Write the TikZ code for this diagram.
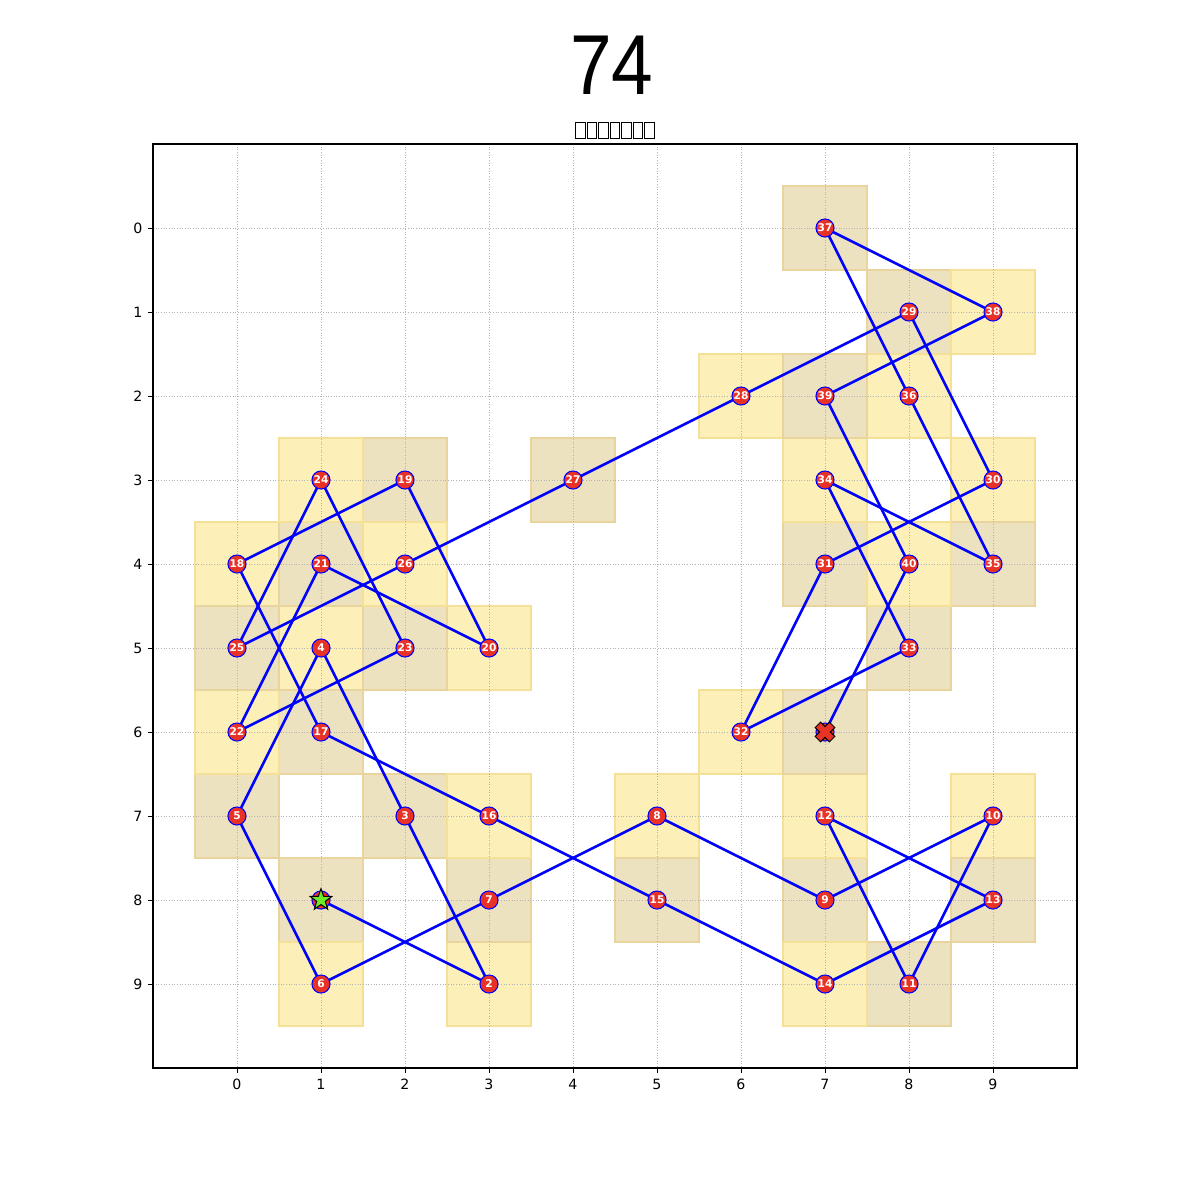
\documentclass[tikz,border=0pt]{standalone}
\usepackage{fontspec}
\setmainfont{DejaVu Sans}
\newfontfamily\titlefont{Liberation Sans}
\usepackage{graphicx}
\usetikzlibrary{shapes.geometric}
\definecolor{sqY}{RGB}{252,240,184}
\definecolor{sqYe}{RGB}{244,224,150}
\definecolor{sqT}{RGB}{237,226,191}
\definecolor{sqTe}{RGB}{232,212,156}
\definecolor{nodeRed}{RGB}{232,50,38}
\definecolor{pathBlue}{RGB}{0,0,255}
\definecolor{starGreen}{RGB}{110,235,40}
\pgfdeclarelayer{bg}
\pgfdeclarelayer{edge}
\pgfsetlayers{bg,edge,main}
\begin{document}
\begin{tikzpicture}[x=1cm,y=-1cm,
  stepnode/.style={circle,fill=nodeRed,draw=pathBlue,line width=0.35pt,minimum size=0.215cm,inner sep=0pt,text=white,font=\fontsize{3.6}{3.6}\selectfont\bfseries},
  pathline/.style={draw=pathBlue,line width=0.9pt},
  gridline/.style={draw=gray!60,line width=0.22pt,dash pattern=on 0.3pt off 0.6pt},
  ticklabel/.style={font=\fontsize{4.8}{5}\selectfont,inner sep=0pt},
  tofu/.style={draw=black,line width=0.34pt}]
\useasboundingbox (-2.8214,-2.7143) rectangle (11.4643,11.5714);
% title
\node[inner sep=0pt] (title) at (4.464,-1.94) {\titlefont\scalebox{0.88}[1]{\fontsize{28.8}{30}\selectfont 74}};
% subtitle (missing glyph boxes)
\node[inner sep=0pt,minimum width=0.95cm,minimum height=0.19cm] (subtitle) at (4.5,-1.16) {};
\foreach \i in {0,...,6}{
  \draw[tofu] ({4.5+(\i-3)*0.136-0.0565},-1.0675) rectangle ({4.5+(\i-3)*0.136+0.0565},-1.2525);
}
% cells and grid
\begin{pgfonlayer}{bg}
\foreach \x/\y in {1/8,3/9,2/7,1/5,0/7,1/9,3/8,5/7,7/8,9/7,8/9,7/7,9/8,7/9,5/8,3/7,1/6,0/4,2/3,3/5,1/4,0/6,2/5,1/3,0/5,2/4,4/3,6/2,8/1,9/3,7/4,6/6,8/5,7/3,9/4,8/2,7/0,9/1,7/2,8/4,7/6}{
  \pgfmathtruncatemacro\cellpar{mod(\x+\y,2)}
  \ifnum\cellpar=0
    \fill[sqY] (\x-0.5,\y-0.5) rectangle (\x+0.5,\y+0.5);
  \else
    \fill[sqT] (\x-0.5,\y-0.5) rectangle (\x+0.5,\y+0.5);
  \fi
}
\foreach \x/\y in {1/8,3/9,2/7,1/5,0/7,1/9,3/8,5/7,7/8,9/7,8/9,7/7,9/8,7/9,5/8,3/7,1/6,0/4,2/3,3/5,1/4,0/6,2/5,1/3,0/5,2/4,4/3,6/2,8/1,9/3,7/4,6/6,8/5,7/3,9/4,8/2,7/0,9/1,7/2,8/4,7/6}{
  \pgfmathtruncatemacro\cellpar{mod(\x+\y,2)}
  \ifnum\cellpar=0
    \draw[sqYe,line width=0.35pt] (\x-0.5,\y-0.5) rectangle (\x+0.5,\y+0.5);
  \else
    \draw[sqTe,line width=0.35pt] (\x-0.5,\y-0.5) rectangle (\x+0.5,\y+0.5);
  \fi
}
\foreach \k in {0,...,9}{
  \draw[gridline] (\k,-1) -- (\k,10);
  \draw[gridline] (-1,\k) -- (10,\k);
}
\end{pgfonlayer}
% frame, ticks, tick labels
\draw[line width=0.38pt] (-1,-1) rectangle (10,10);
\foreach \k in {0,...,9}{
  \draw[line width=0.3pt] (-1,\k) -- (-1.058,\k);
  \draw[line width=0.3pt] (\k,10) -- (\k,10.058);
  \node[ticklabel,anchor=east] (yl\k) at (-1.12,\k) {\k};
  \node[ticklabel,anchor=north] (xl\k) at (\k,10.12) {\k};
}
% path nodes
\node[stepnode] (p1) at (1,8) {};
\foreach \n/\x/\y in {2/3/9,3/2/7,4/1/5,5/0/7,6/1/9,7/3/8,8/5/7,9/7/8,10/9/7,11/8/9,12/7/7,13/9/8,14/7/9,15/5/8,16/3/7,17/1/6,18/0/4,19/2/3,20/3/5,21/1/4,22/0/6,23/2/5,24/1/3,25/0/5,26/2/4,27/4/3,28/6/2,29/8/1,30/9/3,31/7/4,32/6/6,33/8/5,34/7/3,35/9/4,36/8/2,37/7/0,38/9/1,39/7/2,40/8/4}{
  \node[stepnode] (p\n) at (\x,\y) {\n};
}
\node[stepnode] (p41) at (7,6) {};
% connectors
\begin{pgfonlayer}{edge}
\foreach \i [evaluate=\i as \j using int(\i+1)] in {1,...,40}{
  \draw[pathline] (p\i.center) -- (p\j.center);
}
\end{pgfonlayer}
% start marker
\node[star,star points=5,star point ratio=2.5,fill=starGreen,draw=black,line width=0.35pt,minimum size=0.27cm,inner sep=0pt] (start) at (p1) {};
% end marker
\begin{scope}[shift={(p41.center)},rotate=45]
\filldraw[fill=nodeRed,draw=black,line width=0.35pt]
 (0.045,0.12) -- (0.045,0.045) -- (0.12,0.045) -- (0.12,-0.045) -- (0.045,-0.045) -- (0.045,-0.12) -- (-0.045,-0.12) -- (-0.045,-0.045) -- (-0.12,-0.045) -- (-0.12,0.045) -- (-0.045,0.045) -- (-0.045,0.12) -- cycle;
\end{scope}
\coordinate (endmark) at (p41);
\end{tikzpicture}
\end{document}
